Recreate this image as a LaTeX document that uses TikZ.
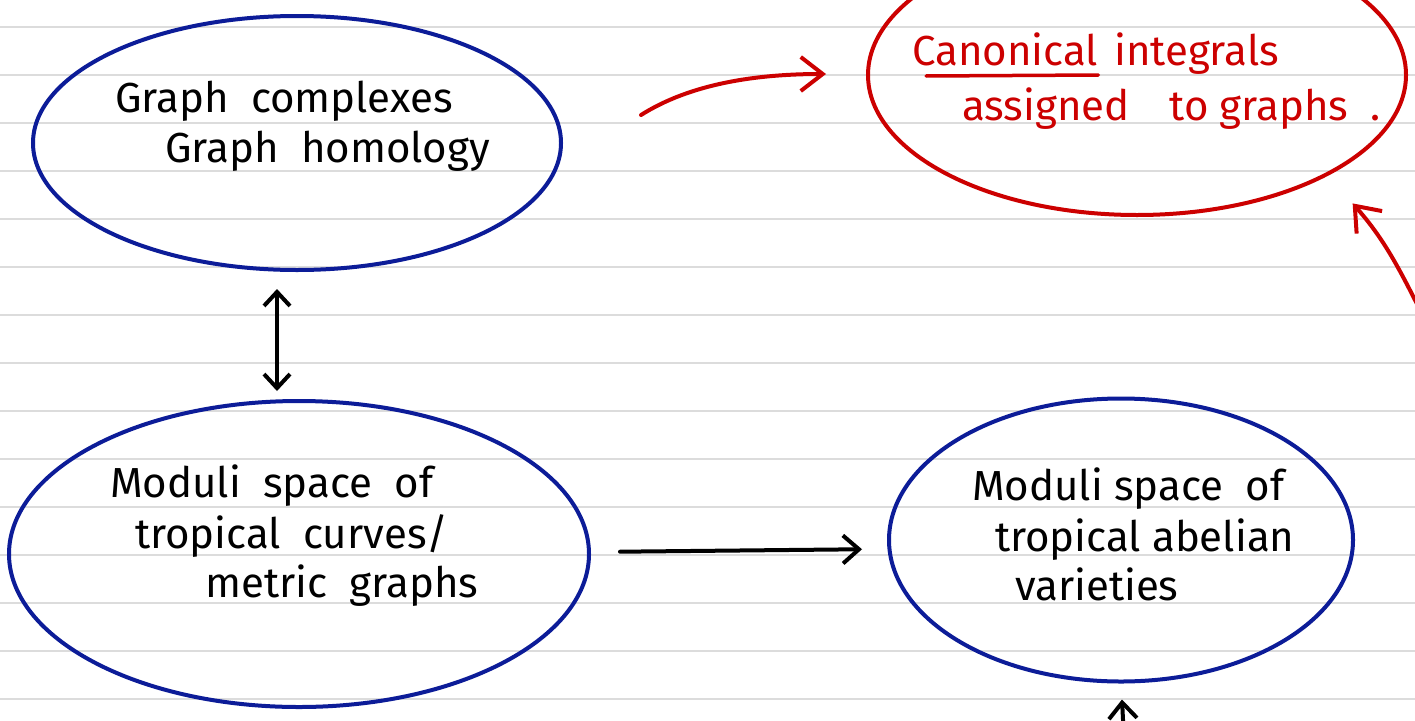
\documentclass[tikz,border=0pt]{standalone}
\usepackage{fontspec}
\setmainfont{Fira Sans}
\usetikzlibrary{shapes.geometric,arrows.meta,calc}
\definecolor{rulegray}{RGB}{220,220,220}
\definecolor{inkblue}{RGB}{12,28,152}
\definecolor{inkred}{RGB}{204,0,0}
\newfontfamily\handfont{Fira Sans}
\tikzset{
  rulestyle/.style={draw=rulegray, line width=2.4pt},
  blueell/.style={ellipse, draw=inkblue, line width=4pt, inner sep=0pt},
  redell/.style={ellipse, draw=inkred, line width=4pt, inner sep=0pt},
  hand/.style={anchor=base west, inner sep=0pt, font=\handfont\fontsize{42}{48}\selectfont},
  redhand/.style={hand, text=inkred},
  arr/.style={line width=4pt, line cap=round, line join=round, -{Straight Barb[length=16pt,width=28pt]}},
  dblarr/.style={line width=4pt, line cap=round, line join=round, {Straight Barb[length=14pt,width=26pt]}-{Straight Barb[length=14pt,width=26pt]}},
  redarr/.style={arr, draw=inkred, -{Straight Barb[length=22pt,width=34pt]}},
}
\begin{document}
\begin{tikzpicture}[x=1pt,y=-1pt]
\useasboundingbox (0,0) rectangle (1415,720);
\clip (0,0) rectangle (1415,720);
\fill[white] (0,0) rectangle (1415,720);
% ruled paper
\foreach \k in {0,...,14} {
  \draw[rulestyle] (0,27+48*\k) -- (1415,27+48*\k);
}
% ellipses
\node[blueell, minimum width=528pt, minimum height=254pt] (tl) at (297,143) {};
\node[blueell, minimum width=580pt, minimum height=306pt] (bl) at (299,554) {};
\node[blueell, minimum width=464pt, minimum height=283pt] (br) at (1121,540) {};
\node[redell, minimum width=538pt, minimum height=280pt] (tr) at (1137,75) {};
% texts
\node[hand] (t1) at (115,112) {Graph\ \ complexes};
\node[hand] (t2) at (165,162) {Graph\ \ homology};
\node[hand] (b1) at (110,497) {Moduli\ \ space\ \ of};
\node[hand] (b2) at (135,548) {tropical\ \ curves/};
\node[hand] (b3) at (205,597) {metric\ \ graphs};
\node[hand] (r1) at (972,500) {Moduli\ space\ \ of};
\node[hand] (r2) at (995,551) {tropical\ abelian};
\node[hand] (r3) at (1015,600) {varieties};
\node[redhand] (c1) at (912,65) {Canonical};
\node[redhand] (c2) at (1114,65) {integrals};
\node[redhand] (c3) at (962,120) {assigned\hspace{40pt}to\ graphs\hspace{22pt}.};
\draw[inkred, line width=3.5pt, line cap=round] ([xshift=14pt,yshift=-11pt]c1.base west) -- ([yshift=-10pt]c1.base east);
% connectors
\coordinate (dbx) at (277,0);
\draw[dblarr] (tl.south -| dbx) ++(0,17) -- ($(bl.north -| dbx)+(0,-8)$);
\draw[arr, shorten <=29pt, shorten >=25pt] ($(bl.east)+(0,-2)$) -- ($(br.west)+(0,9)$);
\coordinate (ra) at (641,115);
\coordinate (rb) at (826,74);
\draw[redarr] (ra) .. controls (690,84) and (755,74) .. (rb);
\coordinate (rs) at (1425,320);
\draw[redarr] (rs) .. controls (1400,270) and (1385,240) .. ($(tr.south east)+(24,28)$);
\coordinate (bs) at (1124,740);
\draw[arr] (bs) -- ($(br.south)+(1,16)$);
\end{tikzpicture}
\end{document}
